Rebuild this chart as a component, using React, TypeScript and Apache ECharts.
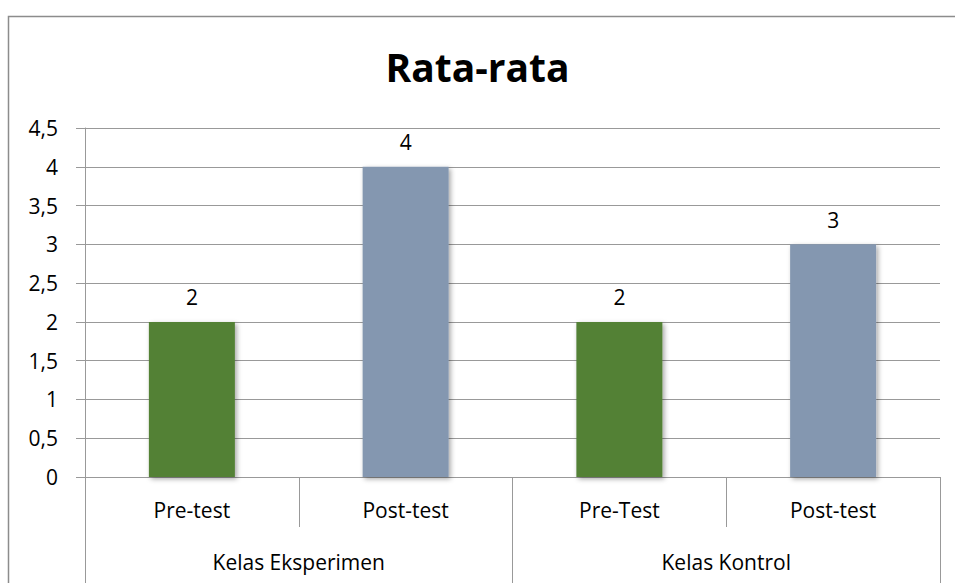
import React, { useEffect, useRef } from "react";
import * as echarts from "echarts";

const categories = ["Pre-test", "Post-test", "Pre-Test", "Post-test"];
const groups = ["Kelas Eksperimen", "Kelas Kontrol"];
const values = [2, 4, 2, 3];
const barColors = ["#538135", "#8497B0", "#538135", "#8497B0"];
const yTicks = [0, 0.5, 1, 1.5, 2, 2.5, 3, 3.5, 4, 4.5];

const FONT = "'Open Sans', 'Noto Sans', sans-serif";
const FS = 21;

export default function App() {
  const ref = useRef<HTMLDivElement>(null);
  useEffect(() => {
    if (!ref.current) return;
    const chart = echarts.init(ref.current, null, { renderer: "svg" });
    chart.setOption({
      animation: false,
      backgroundColor: "#ffffff",
      textStyle: { fontFamily: FONT },
      title: {
        text: "Rata-rata",
        left: "center",
        top: 42,
        textStyle: { fontFamily: FONT, fontWeight: "bold", fontSize: 39, color: "#000" },
      },
      graphic: [
        {
          type: "rect",
          shape: { x: 8.5, y: 16.5, width: 960, height: 600 },
          style: { fill: "none", stroke: "#8c8c8c", lineWidth: 1.5 },
          silent: true,
          z: 100,
        },
      ],
      grid: { left: 85, right: 15, top: 128, bottom: 106, containLabel: false },
      xAxis: [
        {
          type: "category",
          data: categories,
          position: "bottom",
          axisLine: { show: true, lineStyle: { color: "#999999", width: 1 } },
          axisTick: { show: true, length: 50, interval: 0, lineStyle: { color: "#999999" } },
          axisLabel: { interval: 0, margin: 22, fontSize: FS, color: "#000", fontFamily: FONT },
        },
        {
          type: "category",
          data: groups,
          position: "bottom",
          axisLine: { show: false },
          axisTick: { show: true, length: 106, interval: 0, lineStyle: { color: "#999999" } },
          axisLabel: { interval: 0, margin: 74, fontSize: FS, color: "#000", fontFamily: FONT },
        },
      ],
      yAxis: {
        type: "value",
        min: 0,
        max: 4.5,
        interval: 0.5,
        axisLine: { show: true, lineStyle: { color: "#999999" } },
        axisTick: { show: true, length: 9, lineStyle: { color: "#999999" } },
        splitLine: { show: true, lineStyle: { color: "#999999", width: 1 } },
        axisLabel: {
          margin: 27,
          fontSize: FS,
          color: "#000",
          fontFamily: FONT,
          formatter: (v: number) => {
            const t = yTicks.find((x) => Math.abs(x - v) < 1e-9);
            return String(t !== undefined ? t : v).replace(".", ",");
          },
        },
      },
      series: [
        {
          type: "bar",
          xAxisIndex: 0,
          barWidth: 86,
          data: values.map((v, i) => ({
            value: v,
            itemStyle: {
              color: barColors[i],
              shadowBlur: 5,
              shadowColor: "rgba(0,0,0,0.35)",
              shadowOffsetX: 2,
              shadowOffsetY: 2,
            },
          })),
          label: {
            show: true,
            position: "top",
            distance: 14,
            fontSize: FS,
            color: "#000",
            fontFamily: FONT,
          },
        },
      ],
    });
    return () => chart.dispose();
  }, []);
  return (
    <div
      ref={ref}
      style={{ position: "absolute", left: 0, top: 0, width: 955, height: 583 }}
    />
  );
}
